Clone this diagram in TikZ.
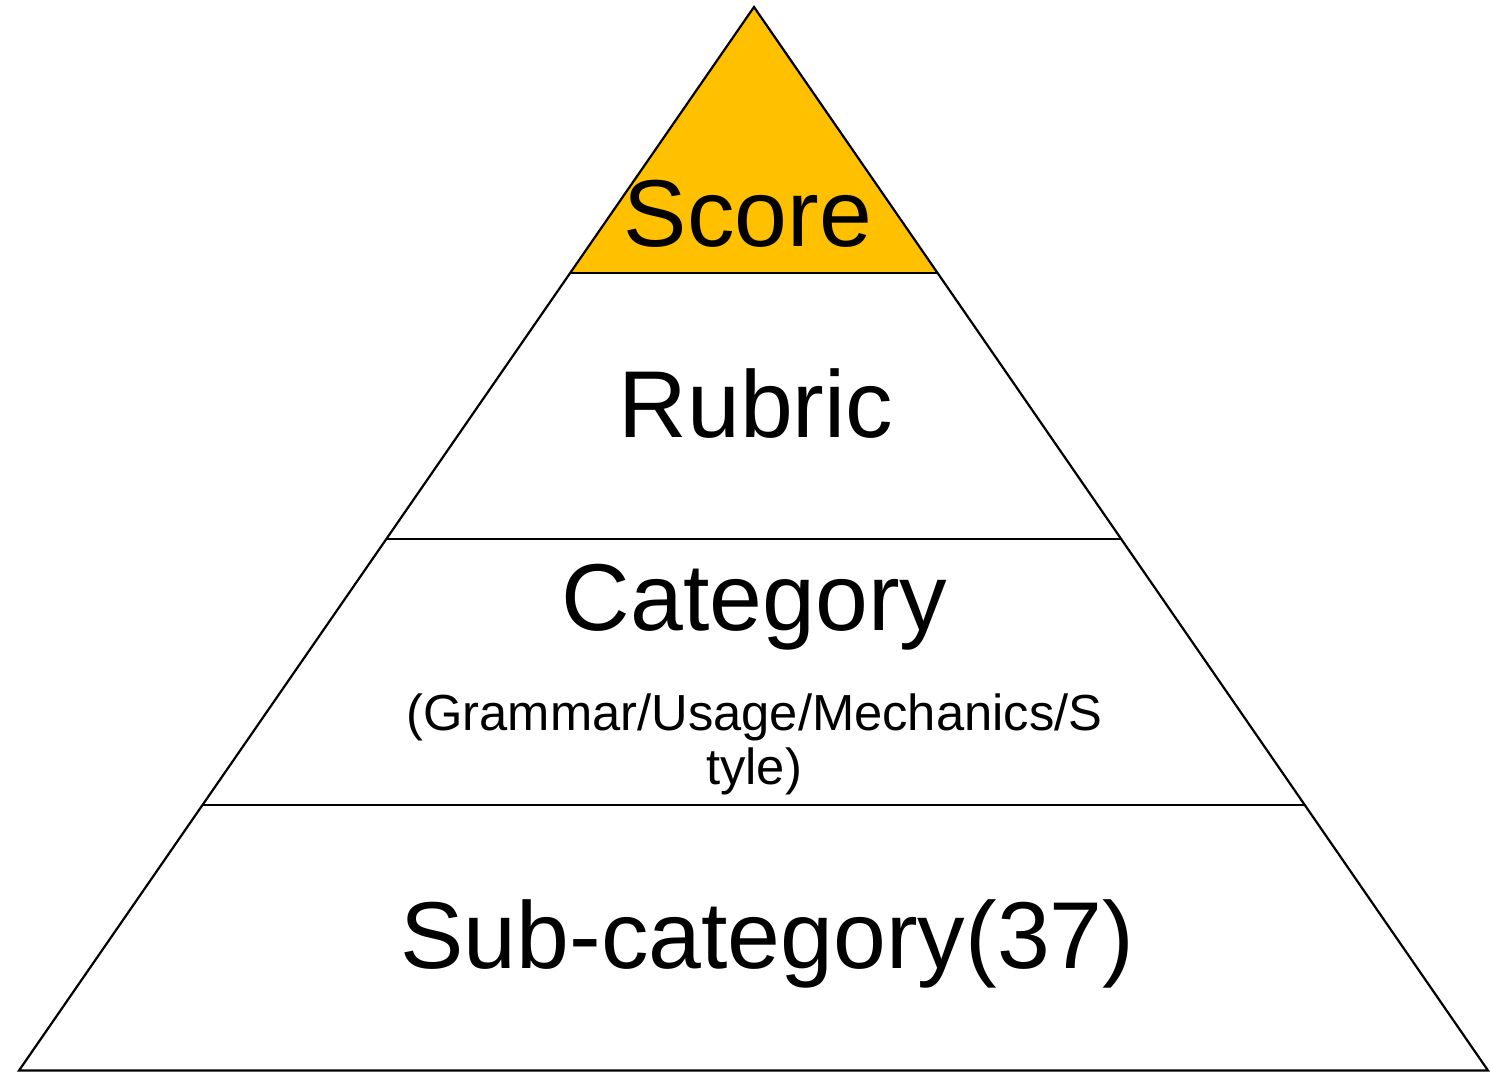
\documentclass[tikz,border=0pt]{standalone}
\usepackage{fontspec}
\setmainfont{Liberation Sans}
\usetikzlibrary{calc}
\definecolor{gold}{HTML}{FFC000}
\begin{document}
\begin{tikzpicture}[x=1pt,y=-1pt,
  edge/.style={draw=black,line width=2.2pt,line join=miter},
  bigtext/.style={inner sep=0pt,anchor=base,font=\fontsize{95}{114}\selectfont},
  smalltext/.style={inner sep=0pt,anchor=base,font=\fontsize{50.7}{54}\selectfont}]
\useasboundingbox (0,0) rectangle (1490,1071);
\fill[white] (0,0) rectangle (1490,1071);
\coordinate (apex) at (754,7);
\coordinate (bl) at (19,1070.5);
\coordinate (br) at (1488,1070.5);
\coordinate (l1) at ($(apex)!0.25!(bl)$);
\coordinate (r1) at ($(apex)!0.25!(br)$);
\coordinate (l2) at ($(apex)!0.5!(bl)$);
\coordinate (r2) at ($(apex)!0.5!(br)$);
\coordinate (l3) at ($(apex)!0.75!(bl)$);
\coordinate (r3) at ($(apex)!0.75!(br)$);
\fill[gold] (apex) -- (l1) -- (r1) -- cycle;
\draw[edge] (apex) -- (bl) -- (br) -- cycle;
\draw[edge] (l1) -- (r1);
\draw[edge] (l2) -- (r2);
\draw[edge] (l3) -- (r3);
\node[bigtext] (score) at (748,246) {Score};
\node[bigtext] (rubric) at (756,437) {Rubric};
\node[bigtext] (category) at (754.5,630) {Category};
\node[smalltext] (cat1) at (754.5,730) {(Grammar/Usage/Mechanics/S};
\node[smalltext] (cat2) at (754,784) {tyle)};
\node[bigtext] (sub) at (767.5,968) {Sub-category(37)};
\end{tikzpicture}
\end{document}
